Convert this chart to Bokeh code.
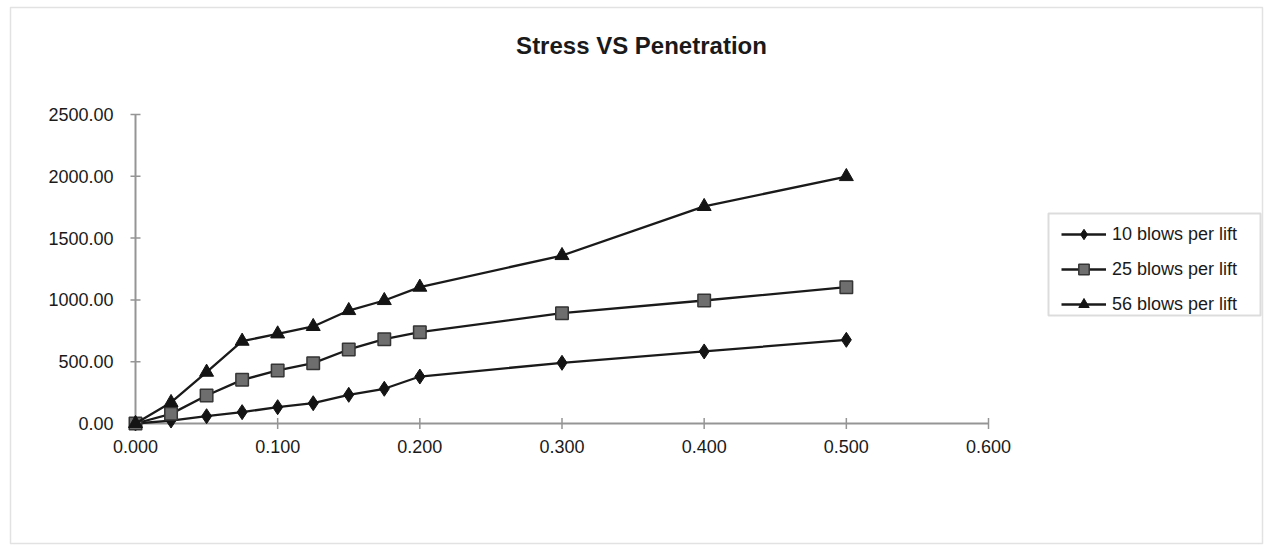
import math
from bokeh.plotting import figure
from bokeh.models import Legend, LegendItem, BoxAnnotation, Range1d, Label
from bokeh.core.properties import value
from bokeh.embed import file_html
from bokeh.resources import INLINE

# ---- data ----
penetration = [0.0, 0.025, 0.05, 0.075, 0.1, 0.125, 0.15, 0.175, 0.2, 0.3, 0.4, 0.5]
blows10 = [0, 24, 59, 92, 132, 164, 232, 281, 380, 491, 583, 677]
blows25 = [0, 78, 226, 353, 429, 488, 599, 682, 739, 893, 995, 1103]
blows56 = [0, 170, 415, 666, 725, 785, 914, 995, 1103, 1359, 1756, 1998]
series_names = ["10 blows per lift", "25 blows per lift", "56 blows per lift"]
x_ticks = [0.0, 0.1, 0.2, 0.3, 0.4, 0.5, 0.6]
x_tick_labels = ["0.000", "0.100", "0.200", "0.300", "0.400", "0.500", "0.600"]
y_ticks = [0, 500, 1000, 1500, 2000, 2500]
y_tick_labels = ["0.00", "500.00", "1000.00", "1500.00", "2000.00", "2500.00"]
title_text = "Stress VS Penetration"

# ---- layout (pixels) ----
W, H = 1264, 545
AX_LEFT_PX, AX_RIGHT_PX = 135, 988      # pixel positions of x_ticks[0] and x_ticks[-1]
AX_BOTTOM_PX, AX_TOP_PX = 423, 114      # pixel positions of y_ticks[0] and y_ticks[-1]
FONT = "Liberation Sans"
TXT = "#1a1a1a"
AXIS_COL = "#959595"

xs = (AX_RIGHT_PX - AX_LEFT_PX) / (x_ticks[-1] - x_ticks[0])
ys = (AX_BOTTOM_PX - AX_TOP_PX) / (y_ticks[-1] - y_ticks[0])
x_range = Range1d(x_ticks[0] - AX_LEFT_PX / xs, x_ticks[0] + (W - AX_LEFT_PX) / xs)
y_range = Range1d(y_ticks[0] - (H - AX_BOTTOM_PX) / ys, y_ticks[0] + AX_BOTTOM_PX / ys)

p = figure(width=W, height=H, output_backend="svg", toolbar_location=None,
           x_range=x_range, y_range=y_range,
           min_border=0, min_border_left=0, min_border_right=0, min_border_top=0, min_border_bottom=0)
p.axis.visible = False
p.grid.visible = False
p.outline_line_color = None
p.background_fill_color = "white"
p.border_fill_color = "white"

# axes drawn from the tick lists
p.segment(x0=[x_ticks[0]], y0=[y_ticks[0]], x1=[x_ticks[-1]], y1=[y_ticks[0]], line_color=AXIS_COL, line_width=2)
p.segment(x0=[x_ticks[0]], y0=[y_ticks[0]], x1=[x_ticks[0]], y1=[y_ticks[-1]], line_color=AXIS_COL, line_width=2)
p.scatter(x_ticks, [y_ticks[0]] * len(x_ticks), marker="dash", angle=math.pi / 2, size=11,
          line_color=AXIS_COL, line_width=1.5)
p.scatter([x_ticks[0]] * len(y_ticks), y_ticks, marker="dash", size=10,
          line_color=AXIS_COL, line_width=1.5)
p.text(x_ticks, [y_ticks[0]] * len(x_ticks), text=x_tick_labels, y_offset=23,
       text_align="center", text_baseline="middle", text_font=value(FONT),
       text_font_size="18px", text_color=TXT)
p.text([x_ticks[0]] * len(y_ticks), y_ticks, text=y_tick_labels, x_offset=-22,
       text_align="right", text_baseline="middle", text_font=value(FONT),
       text_font_size="18px", text_color=TXT)

line_color = "#1a1a1a"
l1 = p.line(penetration, blows10, line_color=line_color, line_width=2.3)
m1 = p.scatter(penetration, blows10, marker="diamond", size=15,
               fill_color="#141414", line_color="#141414")
l2 = p.line(penetration, blows25, line_color=line_color, line_width=2.3)
m2 = p.scatter(penetration, blows25, marker="square", size=12.5, fill_color="#6e6e6e",
               line_color="#353535", line_width=1.5)
l3 = p.line(penetration, blows56, line_color=line_color, line_width=2.3)
m3 = p.scatter(penetration, blows56, marker="triangle", size=14, fill_color="#141414",
               line_color="#141414")

legend = Legend(items=[LegendItem(label=series_names[0], renderers=[l1, m1]),
                       LegendItem(label=series_names[1], renderers=[l2, m2]),
                       LegendItem(label=series_names[2], renderers=[l3, m3])],
                location=(1061, 228))
legend.border_line_color = None
legend.background_fill_alpha = 0
legend.padding = 6
legend.spacing = 9
legend.glyph_width = 45
legend.glyph_height = 26
legend.label_height = 26
legend.label_standoff = 6
legend.label_text_font = FONT
legend.label_text_font_size = "18px"
legend.label_text_color = TXT
legend.margin = 0
p.add_layout(legend, "center")

legend_box = BoxAnnotation(left=1048, right=1260, top=332, bottom=230,
                           left_units="screen", right_units="screen", top_units="screen", bottom_units="screen",
                           fill_alpha=0, line_color="#8a8a8a", line_width=2)
p.add_layout(legend_box)
outer_box = BoxAnnotation(left=10, right=1262, top=538, bottom=2,
                          left_units="screen", right_units="screen", top_units="screen", bottom_units="screen",
                          fill_alpha=0, line_color="#a0a0a0", line_width=1.5)
p.add_layout(outer_box)

title = Label(x=641, y=500, x_units="screen", y_units="screen", text=title_text,
              text_align="center", text_baseline="middle", text_font=FONT,
              text_font_size="24px", text_font_style="bold", text_color=TXT)
p.add_layout(title)

open("out.html", "w").write(file_html(p, INLINE))
